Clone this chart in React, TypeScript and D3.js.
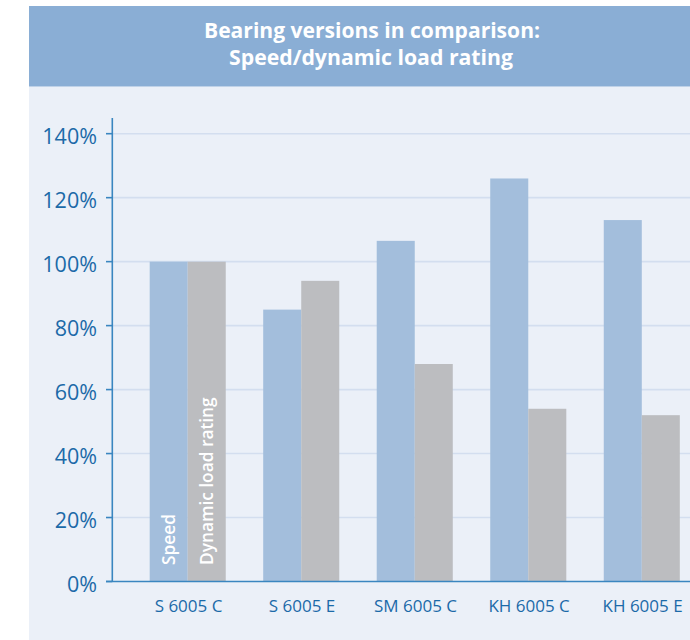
import React from "react";
import * as d3 from "d3";

const categories = ["S 6005 C", "S 6005 E", "SM 6005 C", "KH 6005 C", "KH 6005 E"];
const speed = [100, 85, 106.5, 126, 113];
const loadRating = [100, 94, 68, 54, 52];
const yTicks = [0, 20, 40, 60, 80, 100, 120, 140];
const titleLines = ["Bearing versions in comparison:", "Speed/dynamic load rating"];
const seriesNames = ["Speed", "Dynamic load rating"];

const W = 690;
const H = 640;
const FONT = "'Open Sans', 'Noto Sans', sans-serif";
const TEXT_BLUE = "#1b6aa8";
const AXIS_BLUE = "#3a86c0";

export default function App() {
  const y = d3.scaleLinear().domain([0, 140]).range([581.5, 133.7]);
  const x0 = d3
    .scaleBand<string>()
    .domain(categories)
    .range([112, 717.5])
    .paddingInner(0.33)
    .paddingOuter(0.332);
  const x1 = d3.scaleBand<string>().domain(seriesNames).range([0, x0.bandwidth()]);
  const colors = ["#a3bedc", "#bcbdc0"];
  const series = [speed, loadRating];

  return (
    <svg width={W} height={H} style={{ position: "absolute", left: 0, top: 0 }}>
      <rect x={0} y={0} width={W} height={H} fill="#ffffff" />
      <rect x={29} y={86.5} width={W - 29} height={H - 86.5} fill="#ebf0f8" />
      <rect x={29} y={6} width={W - 29} height={80.5} fill="#8aaed5" />
      <text
        x={372}
        y={38.3}
        textAnchor="middle"
        fontFamily={FONT}
        fontWeight={700}
        fontSize={21.5}
        fill="#ffffff"
        textLength={336}
        lengthAdjust="spacingAndGlyphs"
      >
        {titleLines[0]}
      </text>
      <text
        x={371}
        y={65}
        textAnchor="middle"
        fontFamily={FONT}
        fontWeight={700}
        fontSize={21.5}
        fill="#ffffff"
        textLength={284}
        lengthAdjust="spacingAndGlyphs"
      >
        {titleLines[1]}
      </text>

      {yTicks
        .filter((t) => t > 0)
        .map((t) => (
          <line key={"g" + t} x1={112} x2={W} y1={y(t)} y2={y(t)} stroke="#d3deef" strokeWidth={1.6} />
        ))}

      {categories.map((c, i) =>
        series.map((s, j) => (
          <rect
            key={c + j}
            x={(x0(c) as number) + (x1(seriesNames[j]) as number)}
            y={y(s[i])}
            width={x1.bandwidth()}
            height={y(0) - y(s[i])}
            fill={colors[j]}
          />
        ))
      )}

      {seriesNames.map((n, j) => {
        const cx = (x0(categories[0]) as number) + (x1(n) as number) + x1.bandwidth() / 2 - 0.5;
        return (
          <text
            key={n}
            transform={`translate(${cx},565) rotate(-90)`}
            textAnchor="start"
            dominantBaseline="central"
            fontFamily={FONT}
            fontWeight={600}
            fontSize={17.3}
            fill="#ffffff"
          >
            {n}
          </text>
        );
      })}

      <line x1={112.3} x2={112.3} y1={118} y2={582} stroke={AXIS_BLUE} strokeWidth={1.6} />
      <line x1={106} x2={W} y1={581.5} y2={581.5} stroke={AXIS_BLUE} strokeWidth={1.6} />
      {yTicks.map((t) => (
        <g key={"t" + t}>
          <line x1={106} x2={112.3} y1={y(t)} y2={y(t)} stroke={AXIS_BLUE} strokeWidth={1.6} />
          <text
            x={97}
            y={y(t) + 10.3}
            textAnchor="end"
            fontFamily={FONT}
            fontWeight={500}
            fontSize={21.5}
            fill={TEXT_BLUE}
          >
            {t}%
          </text>
        </g>
      ))}

      {categories.map((c) => (
        <text
          key={"l" + c}
          x={(x0(c) as number) + x0.bandwidth() / 2 + 0.8}
          y={611.7}
          textAnchor="middle"
          fontFamily={FONT}
          fontWeight={500}
          fontSize={17}
          fill={TEXT_BLUE}
        >
          {c}
        </text>
      ))}
    </svg>
  );
}
